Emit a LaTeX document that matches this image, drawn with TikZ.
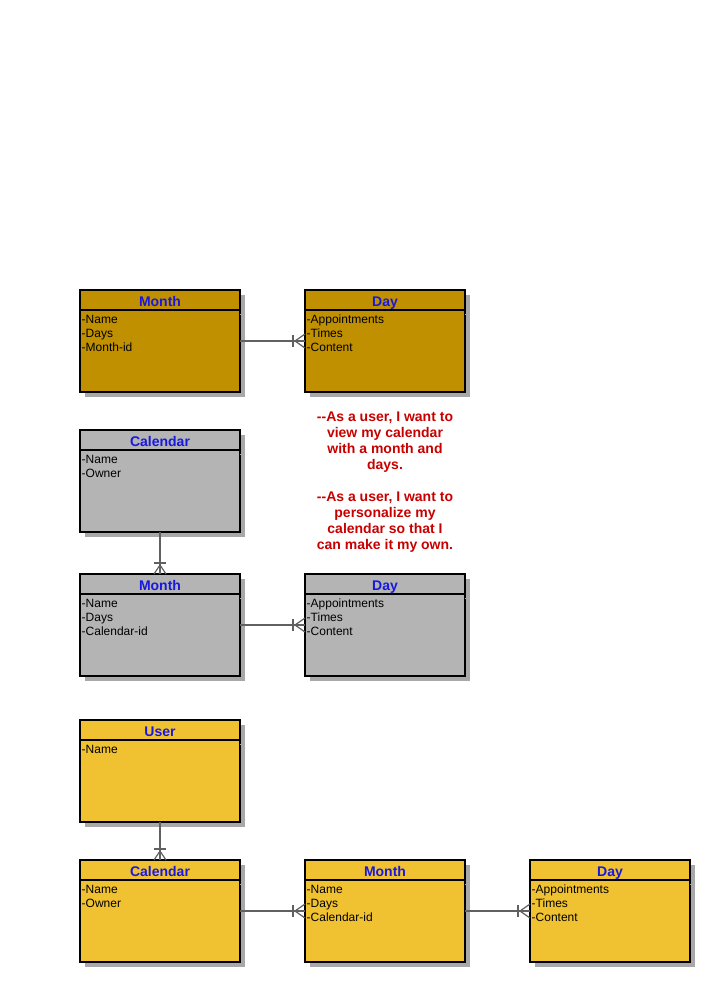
\documentclass[tikz,border=0pt]{standalone}
\usepackage{fontspec}
\setmainfont{Liberation Sans}
\usetikzlibrary{shadows}

\definecolor{goldfill}{RGB}{192,144,0}
\definecolor{grayfill}{RGB}{180,180,180}
\definecolor{yellowfill}{RGB}{240,194,50}
\definecolor{titleblue}{RGB}{24,24,224}
\definecolor{storyred}{RGB}{200,0,0}
\definecolor{shadowgray}{RGB}{168,168,168}
\definecolor{linkgray}{RGB}{96,96,96}

\tikzset{
  entity/.style={draw=black, line width=1.6pt, minimum width=160pt,
    minimum height=102pt, anchor=north west, inner sep=0pt, outer sep=0pt,
    drop shadow={shadow xshift=5pt, shadow yshift=-5pt, fill=shadowgray, opacity=1}},
  enttitle/.style={font=\fontsize{14}{16}\selectfont\bfseries, text=titleblue,
    anchor=base, inner sep=0pt},
  entattr/.style={font=\fontsize{12}{14}\selectfont, anchor=base west, inner sep=0pt},
  link/.style={draw=linkgray, line width=1.2pt},
  story/.style={font=\fontsize{14}{16}\selectfont\bfseries, text=storyred,
    align=center, inner sep=0pt}
}

% entity box: name, x, y (top-left), fill, title, attribute list
\newcommand\erentity[6]{%
  \node[entity, fill=#4] (#1) at (#2,#3) {};
  \draw[shadowgray, line width=1pt] ([yshift=-24pt]#1.north east) -- ++(5pt,0);
  \draw[line width=1.6pt] ([yshift=-20pt]#1.north west) -- ([yshift=-20pt]#1.north east);
  \node[enttitle] (#1-title) at ([yshift=-16pt]#1.north) {#5};
  \foreach \t [count=\i] in {#6}
    \node[entattr] (#1-a\i) at ([xshift=1.5pt,yshift={-33pt-14pt*(\i-1)}]#1.north west) {\t};
}

% one-and-many end entering a box from the left
\newcommand\crowwest[1]{%
  \draw[link] ([xshift=-12pt,yshift=6pt]#1.west) -- ([xshift=-12pt,yshift=-6pt]#1.west);
  \draw[link] ([yshift=7pt]#1.west) -- ([xshift=-10pt]#1.west) -- ([yshift=-7pt]#1.west);
}
% one-and-many end entering a box from above
\newcommand\crownorth[1]{%
  \draw[link] ([xshift=-6pt,yshift=11pt]#1.north) -- ([xshift=6pt,yshift=11pt]#1.north);
  \draw[link] ([xshift=-6pt]#1.north) -- ([yshift=9pt]#1.north) -- ([xshift=6pt]#1.north);
}

\begin{document}
\begin{tikzpicture}[x=1pt, y=-1pt]
  \useasboundingbox[fill=white] (0,0) rectangle (712,982);

  % first model
  \erentity{monthA}{80}{290}{goldfill}{Month}{-Name,-Days,-Month-id}
  \erentity{dayA}{305}{290}{goldfill}{Day}{-Appointments,-Times,-Content}
  \draw[link] (monthA.east) -- (dayA.west);
  \crowwest{dayA}

  % user stories
  \node[story] (stories) at (385,482)
    {-{}-As a user, I want to\\view my calendar\\with a month and\\days.\\[16pt]
     -{}-As a user, I want to\\personalize my\\calendar so that I\\can make it my own.};

  % second model
  \erentity{calB}{80}{430}{grayfill}{Calendar}{-Name,-Owner}
  \erentity{monthB}{80}{574}{grayfill}{Month}{-Name,-Days,-Calendar-id}
  \erentity{dayB}{305}{574}{grayfill}{Day}{-Appointments,-Times,-Content}
  \draw[link] (calB.south) -- (monthB.north);
  \crownorth{monthB}
  \draw[link] (monthB.east) -- (dayB.west);
  \crowwest{dayB}

  % third model
  \erentity{userC}{80}{720}{yellowfill}{User}{-Name}
  \erentity{calC}{80}{860}{yellowfill}{Calendar}{-Name,-Owner}
  \erentity{monthC}{305}{860}{yellowfill}{Month}{-Name,-Days,-Calendar-id}
  \erentity{dayC}{530}{860}{yellowfill}{Day}{-Appointments,-Times,-Content}
  \draw[link] (userC.south) -- (calC.north);
  \crownorth{calC}
  \draw[link] (calC.east) -- (monthC.west);
  \crowwest{monthC}
  \draw[link] (monthC.east) -- (dayC.west);
  \crowwest{dayC}
\end{tikzpicture}
\end{document}
